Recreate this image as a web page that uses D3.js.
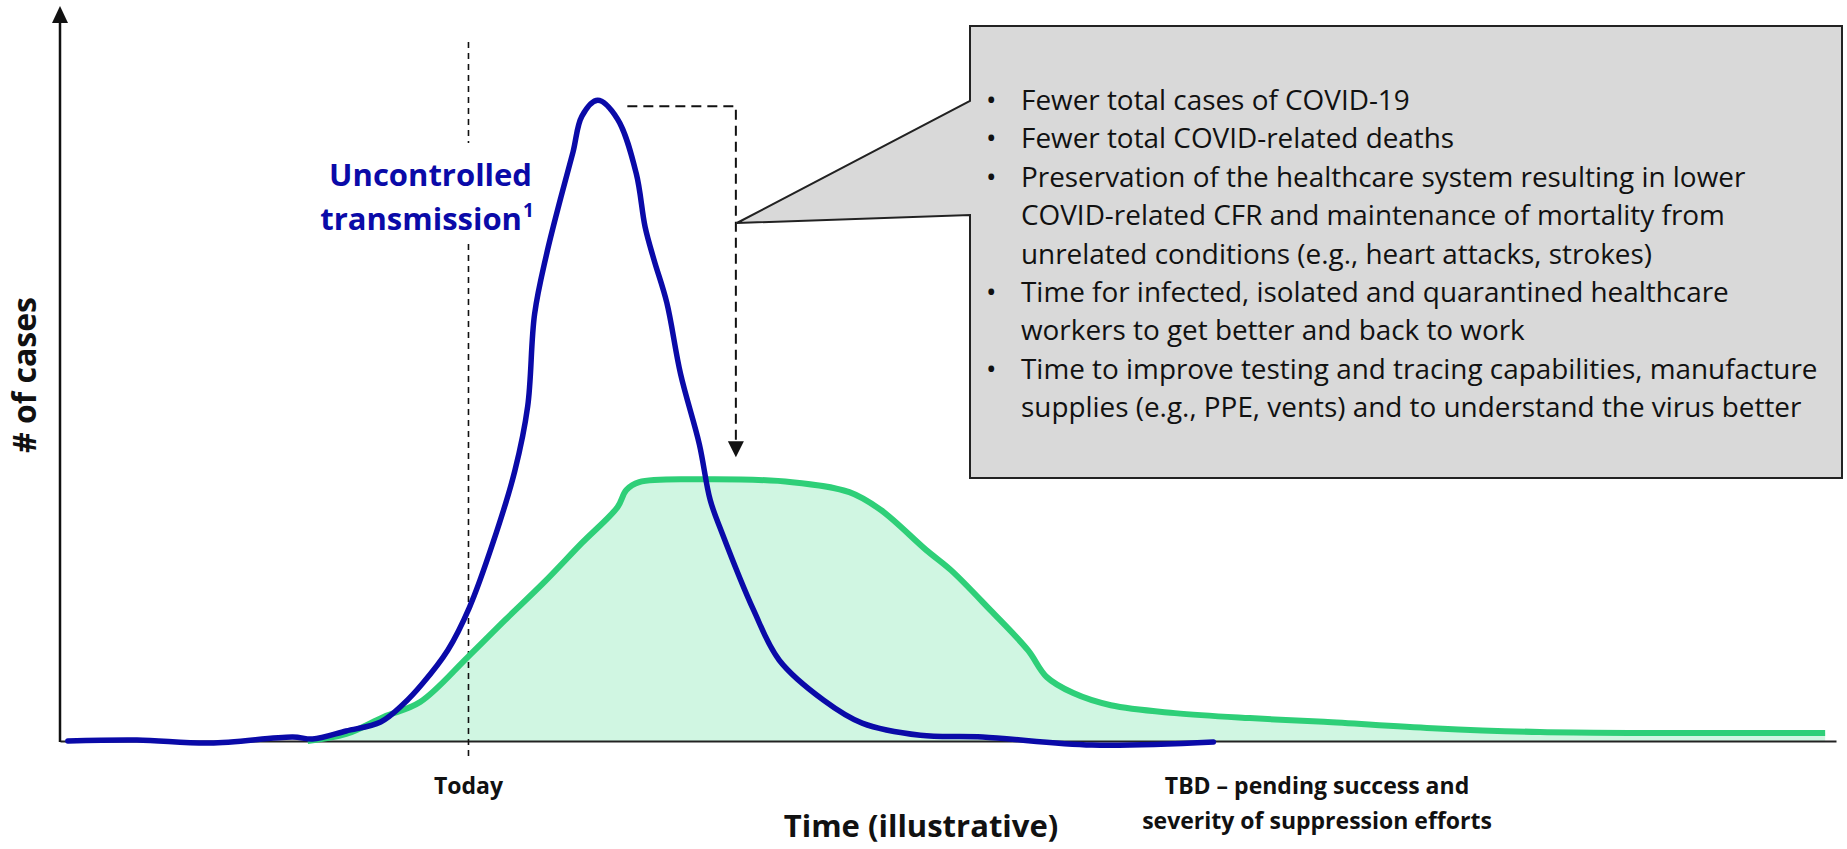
<!DOCTYPE html>
<html>
<head>
<meta charset="utf-8">
<script src="https://cdn.jsdelivr.net/npm/d3@7"></script>
<style>
  body { margin: 0; background: #fff; }
  text { font-family: "Open Sans", sans-serif; }
</style>
</head>
<body>
<script>
// uncontrolled transmission curve: [day, cases]
const uncontrolled = [
  [0.8, 0], [7.8, 1.4], [15.2, -2.8], [23.6, 5.6], [25.6, 2.8], [29.0, 14],
  [32.5, 26.6], [34.8, 51.7], [36.7, 79.7], [39.3, 127], [41.5, 187], [43.9, 278],
  [46.1, 378], [47.4, 468], [48.1, 597], [49.3, 680], [50.7, 757], [52.0, 824],
  [52.9, 874], [54.5, 896], [56.5, 870], [58.4, 794], [59.3, 719], [60.2, 673],
  [61.5, 613], [62.9, 513], [64.8, 415], [65.9, 337], [67.1, 291], [70.3, 183],
  [72.9, 113], [77.4, 57], [81.3, 25], [87.2, 8], [93.5, 5.6], [104.6, -5.6], [116.9, -1.4]
];
// suppressed curve: [day, cases]
const suppressed = [
  [25.1, 0], [29.0, 9.8], [32.8, 33.6], [36.5, 54.5], [41.3, 117], [45.1, 169],
  [49.0, 221], [52.9, 277], [56.5, 327], [57.4, 351], [58.7, 362], [64.5, 366],
  [74.2, 362], [80.0, 348], [83.2, 323], [87.8, 267], [90.3, 239], [94.3, 183],
  [98.1, 127], [100.0, 89.5], [102.7, 67], [106.5, 50], [113.0, 39], [120.6, 32],
  [128.1, 27], [139.1, 18], [150.0, 12.6], [178.9, 11.2]
];
const xTicks = [
  { day: 41.4, lines: ["Today"] },
  { day: 127.4, lines: ["TBD \u2013 pending success and", "severity of suppression efforts"] }
];
const benefits = [
  ["Fewer total cases of COVID-19"],
  ["Fewer total COVID-related deaths"],
  ["Preservation of the healthcare system resulting in lower",
   "COVID-related CFR and maintenance of mortality from",
   "unrelated conditions (e.g., heart attacks, strokes)"],
  ["Time for infected, isolated and quarantined healthcare",
   "workers to get better and back to work"],
  ["Time to improve testing and tracing capabilities, manufacture",
   "supplies (e.g., PPE, vents) and to understand the virus better"]
];
const seriesLabel = ["Uncontrolled", "transmission"];

const W = 1847, H = 849;
const blue = "#0a0aa8", green = "#2ecf78", fillGreen = "#d0f6e2";

let svg = d3.select("body").append("svg")
  .attr("width", W)
  .attr("height", H);

let x = d3.scaleLinear().domain([0, 180]).range([60, 1836]);
let y = d3.scaleLinear().domain([0, 1000]).range([741, 26]);

// area under suppressed curve
svg.append("path")
  .datum(suppressed)
  .attr("fill", fillGreen)
  .attr("d", d3.area()
    .x(d => x(d[0]))
    .y0(y(0))
    .y1(d => y(d[1]))
    .curve(d3.curveCatmullRom));

// axes
svg.append("g")
  .attr("transform", "translate(0," + y(0) + ")")
  .call(d3.axisBottom(x).tickValues([]).tickSizeOuter(0))
  .select(".domain")
  .attr("stroke", "#222")
  .attr("stroke-width", 2);

svg.append("line")
  .attr("x1", x(0)).attr("x2", x(0))
  .attr("y1", y(0) + 1).attr("y2", 20)
  .attr("stroke", "#111")
  .attr("stroke-width", 2.5);
svg.append("path")
  .attr("d", `M${x(0) - 8},23 L${x(0)},6 L${x(0) + 8},23 Z`)
  .attr("fill", "#111");

// today line, with a gap behind the label
const todayX = x(xTicks[0].day);
[[42, 143], [244, 758]].forEach(seg => {
  svg.append("line")
    .attr("x1", todayX).attr("x2", todayX)
    .attr("y1", seg[0]).attr("y2", seg[1])
    .attr("stroke", "#111")
    .attr("stroke-width", 1.6)
    .attr("stroke-dasharray", "6,5");
});

// lines
svg.append("path")
  .datum(suppressed)
  .attr("fill", "none")
  .attr("stroke", green)
  .attr("stroke-width", 6)
  .attr("d", d3.line()
    .x(d => x(d[0]))
    .y(d => y(d[1]))
    .curve(d3.curveCatmullRom));

svg.append("path")
  .datum(uncontrolled)
  .attr("fill", "none")
  .attr("stroke", blue)
  .attr("stroke-width", 5.5)
  .attr("stroke-linecap", "round")
  .attr("d", d3.line()
    .x(d => x(d[0]))
    .y(d => y(d[1]))
    .curve(d3.curveCatmullRom));

// peak -> plateau dashed arrow
const peakB = d3.max(uncontrolled, d => d[1]);
const peakG = d3.max(suppressed, d => d[1]);
const arrowX = x(68.5);
svg.append("path")
  .attr("d", `M${x(57.5)},${y(peakB) + 6} H${arrowX} V${y(peakG) - 38}`)
  .attr("fill", "none")
  .attr("stroke", "#111")
  .attr("stroke-width", 2)
  .attr("stroke-dasharray", "10,6");
svg.append("path")
  .attr("d", `M${arrowX - 8},${y(peakG) - 38} L${arrowX + 8},${y(peakG) - 38} L${arrowX},${y(peakG) - 22} Z`)
  .attr("fill", "#111");

// callout box
const bx = 970, by = 26, bw = 872, bh = 452;
svg.append("path")
  .attr("d", `M${bx},${by} H${bx + bw} V${by + bh} H${bx} V215 L${arrowX + 1},223 L${bx},101 Z`)
  .attr("fill", "#d9d9d9")
  .attr("stroke", "#222")
  .attr("stroke-width", 2);

let boxText = svg.append("g").attr("font-size", 28).attr("fill", "#111");
let line = 0;
benefits.forEach(item => {
  item.forEach((t, i) => {
    let ty = 110 + line * 38.4;
    if (i === 0) {
      boxText.append("text")
        .attr("x", 986).attr("y", ty)
        .text("\u2022");
    }
    boxText.append("text")
      .attr("class", "item")
      .attr("x", 1021).attr("y", ty)
      .text(t);
    line++;
  });
});
// fit the longest line to the box width
let longest = d3.max(boxText.selectAll("text.item").nodes(), n => n.getComputedTextLength());
boxText.attr("font-size", 28 * 797 / longest);

// series label
let lab = svg.append("text")
  .attr("text-anchor", "end")
  .attr("font-weight", "bold")
  .attr("font-size", 31)
  .attr("fill", blue);
lab.append("tspan").attr("x", 532).attr("y", 186).text(seriesLabel[0]);
lab.append("tspan").attr("x", 522).attr("y", 230).text(seriesLabel[1]);
svg.append("text")
  .attr("x", 523).attr("y", 217)
  .attr("font-weight", "bold")
  .attr("font-size", 19)
  .attr("fill", blue)
  .text("1");

// x tick labels
xTicks.forEach(t => {
  t.lines.forEach((l, i) => {
    svg.append("text")
      .attr("x", x(t.day))
      .attr("y", 794 + i * 35)
      .attr("text-anchor", "middle")
      .attr("font-weight", "bold")
      .attr("font-size", 23)
      .attr("fill", "#111")
      .text(l);
  });
});

// axis titles
svg.append("text")
  .attr("x", 921).attr("y", 837)
  .attr("text-anchor", "middle")
  .attr("font-weight", "bold")
  .attr("font-size", 31)
  .attr("fill", "#111")
  .text("Time (illustrative)");

svg.append("text")
  .attr("transform", "translate(36,375) rotate(-90)")
  .attr("text-anchor", "middle")
  .attr("font-weight", "bold")
  .attr("font-size", 32)
  .attr("fill", "#111")
  .text("# of cases");
</script>
</body>
</html>
